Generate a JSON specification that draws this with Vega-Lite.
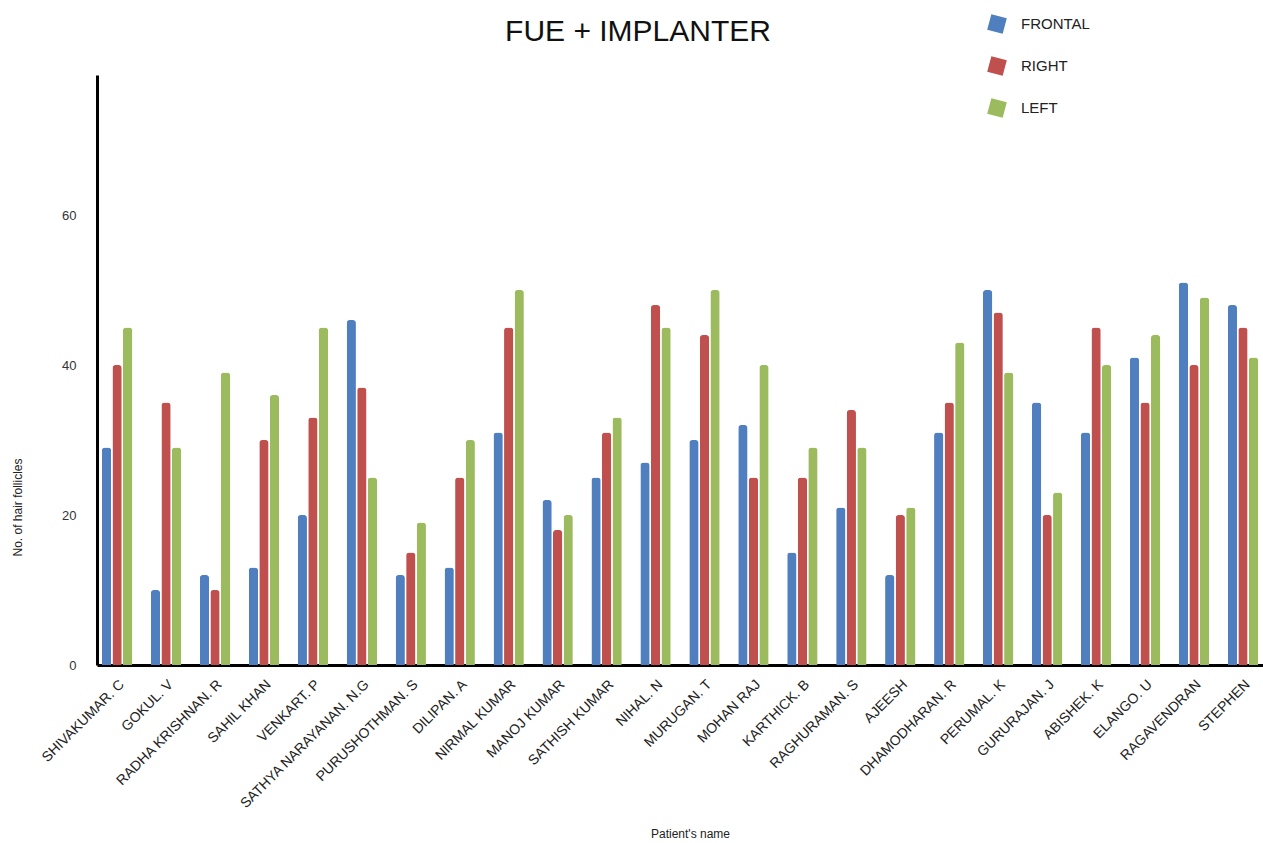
{
  "$schema": "https://vega.github.io/schema/vega-lite/v6.json",
  "autosize": "none",
  "padding": {"left": 97, "top": 75, "right": 0, "bottom": 178},
  "width": 1166,
  "height": 590,
  "background": "white",
  "title": {"text": "FUE + IMPLANTER", "fontSize": 30, "fontWeight": "normal", "font": "Liberation Sans", "color": "#111", "anchor": "middle", "offset": -33, "dx": -42},
  "data": {"values": [
    {"patient": "SHIVAKUMAR. C", "region": "FRONTAL", "value": 29},
    {"patient": "SHIVAKUMAR. C", "region": "RIGHT", "value": 40},
    {"patient": "SHIVAKUMAR. C", "region": "LEFT", "value": 45},
    {"patient": "GOKUL. V", "region": "FRONTAL", "value": 10},
    {"patient": "GOKUL. V", "region": "RIGHT", "value": 35},
    {"patient": "GOKUL. V", "region": "LEFT", "value": 29},
    {"patient": "RADHA KRISHNAN. R", "region": "FRONTAL", "value": 12},
    {"patient": "RADHA KRISHNAN. R", "region": "RIGHT", "value": 10},
    {"patient": "RADHA KRISHNAN. R", "region": "LEFT", "value": 39},
    {"patient": "SAHIL KHAN", "region": "FRONTAL", "value": 13},
    {"patient": "SAHIL KHAN", "region": "RIGHT", "value": 30},
    {"patient": "SAHIL KHAN", "region": "LEFT", "value": 36},
    {"patient": "VENKART. P", "region": "FRONTAL", "value": 20},
    {"patient": "VENKART. P", "region": "RIGHT", "value": 33},
    {"patient": "VENKART. P", "region": "LEFT", "value": 45},
    {"patient": "SATHYA NARAYANAN. N.G", "region": "FRONTAL", "value": 46},
    {"patient": "SATHYA NARAYANAN. N.G", "region": "RIGHT", "value": 37},
    {"patient": "SATHYA NARAYANAN. N.G", "region": "LEFT", "value": 25},
    {"patient": "PURUSHOTHMAN. S", "region": "FRONTAL", "value": 12},
    {"patient": "PURUSHOTHMAN. S", "region": "RIGHT", "value": 15},
    {"patient": "PURUSHOTHMAN. S", "region": "LEFT", "value": 19},
    {"patient": "DILIPAN. A", "region": "FRONTAL", "value": 13},
    {"patient": "DILIPAN. A", "region": "RIGHT", "value": 25},
    {"patient": "DILIPAN. A", "region": "LEFT", "value": 30},
    {"patient": "NIRMAL KUMAR", "region": "FRONTAL", "value": 31},
    {"patient": "NIRMAL KUMAR", "region": "RIGHT", "value": 45},
    {"patient": "NIRMAL KUMAR", "region": "LEFT", "value": 50},
    {"patient": "MANOJ KUMAR", "region": "FRONTAL", "value": 22},
    {"patient": "MANOJ KUMAR", "region": "RIGHT", "value": 18},
    {"patient": "MANOJ KUMAR", "region": "LEFT", "value": 20},
    {"patient": "SATHISH KUMAR", "region": "FRONTAL", "value": 25},
    {"patient": "SATHISH KUMAR", "region": "RIGHT", "value": 31},
    {"patient": "SATHISH KUMAR", "region": "LEFT", "value": 33},
    {"patient": "NIHAL. N", "region": "FRONTAL", "value": 27},
    {"patient": "NIHAL. N", "region": "RIGHT", "value": 48},
    {"patient": "NIHAL. N", "region": "LEFT", "value": 45},
    {"patient": "MURUGAN. T", "region": "FRONTAL", "value": 30},
    {"patient": "MURUGAN. T", "region": "RIGHT", "value": 44},
    {"patient": "MURUGAN. T", "region": "LEFT", "value": 50},
    {"patient": "MOHAN RAJ", "region": "FRONTAL", "value": 32},
    {"patient": "MOHAN RAJ", "region": "RIGHT", "value": 25},
    {"patient": "MOHAN RAJ", "region": "LEFT", "value": 40},
    {"patient": "KARTHICK. B", "region": "FRONTAL", "value": 15},
    {"patient": "KARTHICK. B", "region": "RIGHT", "value": 25},
    {"patient": "KARTHICK. B", "region": "LEFT", "value": 29},
    {"patient": "RAGHURAMAN. S", "region": "FRONTAL", "value": 21},
    {"patient": "RAGHURAMAN. S", "region": "RIGHT", "value": 34},
    {"patient": "RAGHURAMAN. S", "region": "LEFT", "value": 29},
    {"patient": "AJEESH", "region": "FRONTAL", "value": 12},
    {"patient": "AJEESH", "region": "RIGHT", "value": 20},
    {"patient": "AJEESH", "region": "LEFT", "value": 21},
    {"patient": "DHAMODHARAN. R", "region": "FRONTAL", "value": 31},
    {"patient": "DHAMODHARAN. R", "region": "RIGHT", "value": 35},
    {"patient": "DHAMODHARAN. R", "region": "LEFT", "value": 43},
    {"patient": "PERUMAL. K", "region": "FRONTAL", "value": 50},
    {"patient": "PERUMAL. K", "region": "RIGHT", "value": 47},
    {"patient": "PERUMAL. K", "region": "LEFT", "value": 39},
    {"patient": "GURURAJAN. J", "region": "FRONTAL", "value": 35},
    {"patient": "GURURAJAN. J", "region": "RIGHT", "value": 20},
    {"patient": "GURURAJAN. J", "region": "LEFT", "value": 23},
    {"patient": "ABISHEK. K", "region": "FRONTAL", "value": 31},
    {"patient": "ABISHEK. K", "region": "RIGHT", "value": 45},
    {"patient": "ABISHEK. K", "region": "LEFT", "value": 40},
    {"patient": "ELANGO. U", "region": "FRONTAL", "value": 41},
    {"patient": "ELANGO. U", "region": "RIGHT", "value": 35},
    {"patient": "ELANGO. U", "region": "LEFT", "value": 44},
    {"patient": "RAGAVENDRAN", "region": "FRONTAL", "value": 51},
    {"patient": "RAGAVENDRAN", "region": "RIGHT", "value": 40},
    {"patient": "RAGAVENDRAN", "region": "LEFT", "value": 49},
    {"patient": "STEPHEN", "region": "FRONTAL", "value": 48},
    {"patient": "STEPHEN", "region": "RIGHT", "value": 45},
    {"patient": "STEPHEN", "region": "LEFT", "value": 41}
  ]},
  "mark": {"type": "bar", "cornerRadiusTopLeft": 3, "cornerRadiusTopRight": 3},
  "encoding": {
    "x": {
      "field": "patient", "type": "nominal", "sort": null,
      "scale": {"paddingInner": 0.38, "paddingOuter": 0.1},
      "axis": {
        "title": "Patient's name", "titleFont": "Liberation Sans", "titleFontSize": 12, "titleFontWeight": "normal", "titleColor": "#222", "titleY": 175, "titleBaseline": "bottom", "titleX": 593,
        "labelAngle": 315, "labelFont": "Liberation Sans", "labelFontSize": 14, "labelColor": "#222", "labelPadding": 12, "labelOffset": 0,
        "ticks": false, "domainColor": "#000", "domainWidth": 3, "grid": false
      }
    },
    "y": {
      "field": "value", "type": "quantitative",
      "scale": {"domain": [0, 78.67], "nice": false},
      "axis": {
        "title": "No. of hair follicles", "titleFont": "Liberation Sans", "titleFontSize": 12, "titleFontWeight": "normal", "titleColor": "#222", "titlePadding": 37, "titleY": 432,
        "values": [0, 20, 40, 60], "labelFont": "Liberation Sans", "labelFontSize": 13, "labelColor": "#333", "labelPadding": 21,
        "ticks": false, "domainColor": "#000", "domainWidth": 3, "grid": false
      }
    },
    "xOffset": {"field": "region", "type": "nominal", "sort": ["FRONTAL", "RIGHT", "LEFT"], "scale": {"paddingInner": 0.12}},
    "color": {
      "field": "region", "type": "nominal", "sort": ["FRONTAL", "RIGHT", "LEFT"],
      "scale": {"domain": ["FRONTAL", "RIGHT", "LEFT"], "range": ["#4f7fbf", "#bf504d", "#9bbb5e"]},
      "legend": {
        "title": null, "orient": "none", "legendX": 890, "legendY": -61,
        "symbolType": "M0.566,0.98L-0.98,0.566L-0.566,-0.98L0.98,-0.566Z", "symbolSize": 400, "symbolStrokeWidth": 0,
        "labelFont": "Liberation Sans", "labelFontSize": 15, "labelColor": "#222", "labelOffset": 14, "rowPadding": 22
      }
    }
  },
  "config": {"view": {"stroke": null}}
}
